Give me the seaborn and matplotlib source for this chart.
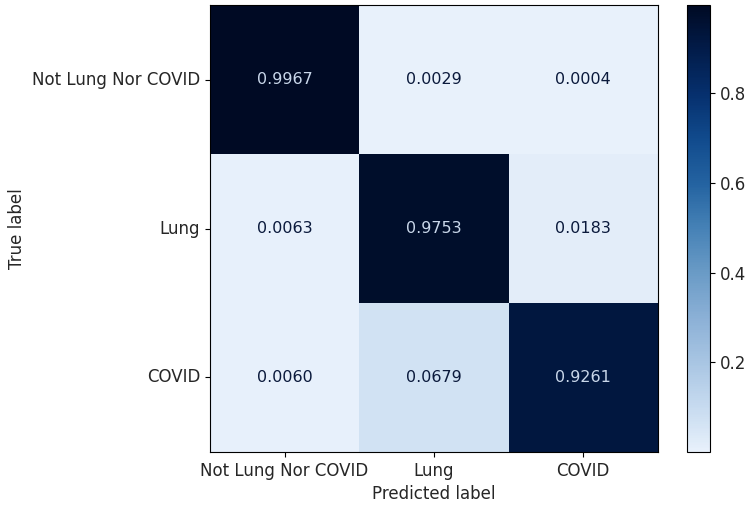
import matplotlib
matplotlib.use("Agg")
import matplotlib.pyplot as plt
from matplotlib.colors import LinearSegmentedColormap
import seaborn as sns
import numpy as np
import pandas as pd

labels = ["Not Lung Nor COVID", "Lung", "COVID"]
row_not_lung = [0.9967, 0.0029, 0.0004]
row_lung = [0.0063, 0.9753, 0.0183]
row_covid = [0.0060, 0.0679, 0.9261]

cm = pd.DataFrame([row_not_lung, row_lung, row_covid], index=labels, columns=labels)

sns.set_style("white")
plt.rcParams['font.family'] = ['DejaVu Sans']

fig = plt.figure(figsize=(7.5, 5.05), dpi=100)
ax = fig.add_axes([0.28, 0.105, 0.597, 0.885])
cax = fig.add_axes([0.916, 0.105, 0.031, 0.885])

cmap = LinearSegmentedColormap.from_list("darkblues", [
    (0.0, "#e8f1fb"), (0.07, "#d0e1f3"), (0.2, "#a8c5e3"), (0.3, "#8bb0d6"),
    (0.4, "#6a9bc6"), (0.5, "#4682b6"), (0.6, "#2463a1"), (0.7, "#114b8d"),
    (0.8, "#06306e"), (0.9, "#021c4a"), (1.0, "#000a24")])
vmin, vmax = cm.values.min(), cm.values.max()
sns.heatmap(cm, ax=ax, cbar_ax=cax, cmap=cmap, vmin=vmin, vmax=vmax,
            annot=True, fmt=".4f", annot_kws={"fontsize": 11.5}, square=False)

thresh = (vmin + vmax) / 2.0
vals = cm.values.flatten()
for t, v in zip(ax.texts, vals):
    t.set_color("#c9d7ea" if v > thresh else "#0b1a3c")

for s in ax.spines.values():
    s.set_visible(True)
    s.set_color("black")
    s.set_linewidth(0.8)
cb = ax.collections[0].colorbar
cb.outline.set_visible(True)
cb.outline.set_edgecolor("black")
cb.outline.set_linewidth(0.8)
cb.set_ticks([0.2, 0.4, 0.6, 0.8])
cax.tick_params(labelsize=12, length=3.5, width=0.8, color="black", left=False, right=True)

ax.tick_params(axis="both", labelsize=12, length=3.5, width=0.8, color="black", bottom=True, left=True)
ax.set_yticklabels(labels, rotation=0)
ax.set_xticklabels(labels, rotation=0)
ax.set_xlabel("Predicted label", fontsize=12)
ax.set_ylabel("True label", fontsize=12)

fig.savefig("out.png", dpi=100)
